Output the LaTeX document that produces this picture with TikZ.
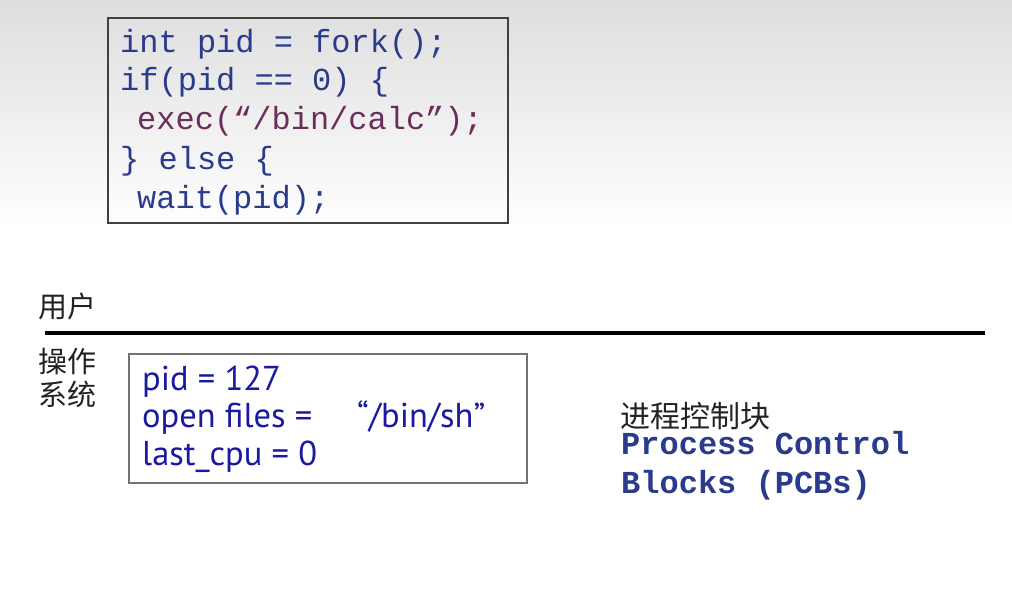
\documentclass[tikz,border=0pt]{standalone}
\usepackage{fontspec}
\newfontfamily\cjk{Noto Sans CJK SC}
\newfontfamily\codefont{Liberation Mono}
\newfontfamily\pcbfont{PT Sans}
\definecolor{codeblue}{HTML}{2A3A8C}
\definecolor{codepurple}{HTML}{6B2D5C}
\definecolor{pcbblue}{HTML}{1A1AA0}
\definecolor{boxgray}{HTML}{404040}
\definecolor{cjkgray}{HTML}{222222}
\tikzset{
  codeline/.style={anchor=base west, inner sep=0pt, text=codeblue, font=\codefont\fontsize{32}{32}\selectfont},
  pcbline/.style={anchor=base west, inner sep=0pt, text=pcbblue, font=\pcbfont\fontsize{34.5}{34.5}\selectfont},
  cjklabel/.style={anchor=center, inner sep=0pt, text=cjkgray, font=\cjk\fontsize{29}{29}\selectfont},
  pcbtitle/.style={anchor=base west, inner sep=0pt, text=codeblue, font=\codefont\bfseries\fontsize{32}{32}\selectfont}
}
\begin{document}
\begin{tikzpicture}[x=1pt,y=-1pt]
\useasboundingbox (0,0) rectangle (1012,615);
\fill[white] (0,0) rectangle (1012,615);
\shade[top color=black!13, bottom color=white] (0,0) rectangle (1012,230);
% code box
\draw[boxgray, line width=2pt] (108,18) rectangle (508,223);
\node[codeline] (c1) at (120,53) {int pid = fork();};
\node[codeline] (c2) at (120,91) {if(pid == 0) \{};
\node[codeline, text=codepurple] (c3) at (137,130) {exec(“/bin/calc”);};
\node[codeline] (c4) at (120,169) {\} else \{};
\node[codeline] (c5) at (137,208) {wait(pid);};
% user / os separation
\node[cjklabel] (user) at (67,306) {用户};
\coordinate (lineL) at (45,333);
\coordinate (lineR) at (985,333);
\draw[black, line width=4pt] (lineL) -- (lineR);
\node[cjklabel] (os1) at (67,361) {操作};
\node[cjklabel] (os2) at (67,394) {系统};
% PCB box
\draw[black!55, line width=1.5pt] (129,354) rectangle (527,483);
\node[pcbline] (p1) at (142,390) {pid = 127};
\node[pcbline] (p2) at (142,427) {open files =\hspace{1.3em}“/bin/sh”};
\node[pcbline] (p3) at (142,465) {last\_cpu = 0};
% PCB title
\node[cjklabel, anchor=west, font=\cjk\fontsize{30}{30}\selectfont] (t0) at (620,416) {进程控制块};
\node[pcbtitle] (t1) at (621,454) {Process Control};
\node[pcbtitle] (t2) at (621,493) {Blocks (PCBs)};
\end{tikzpicture}
\end{document}
